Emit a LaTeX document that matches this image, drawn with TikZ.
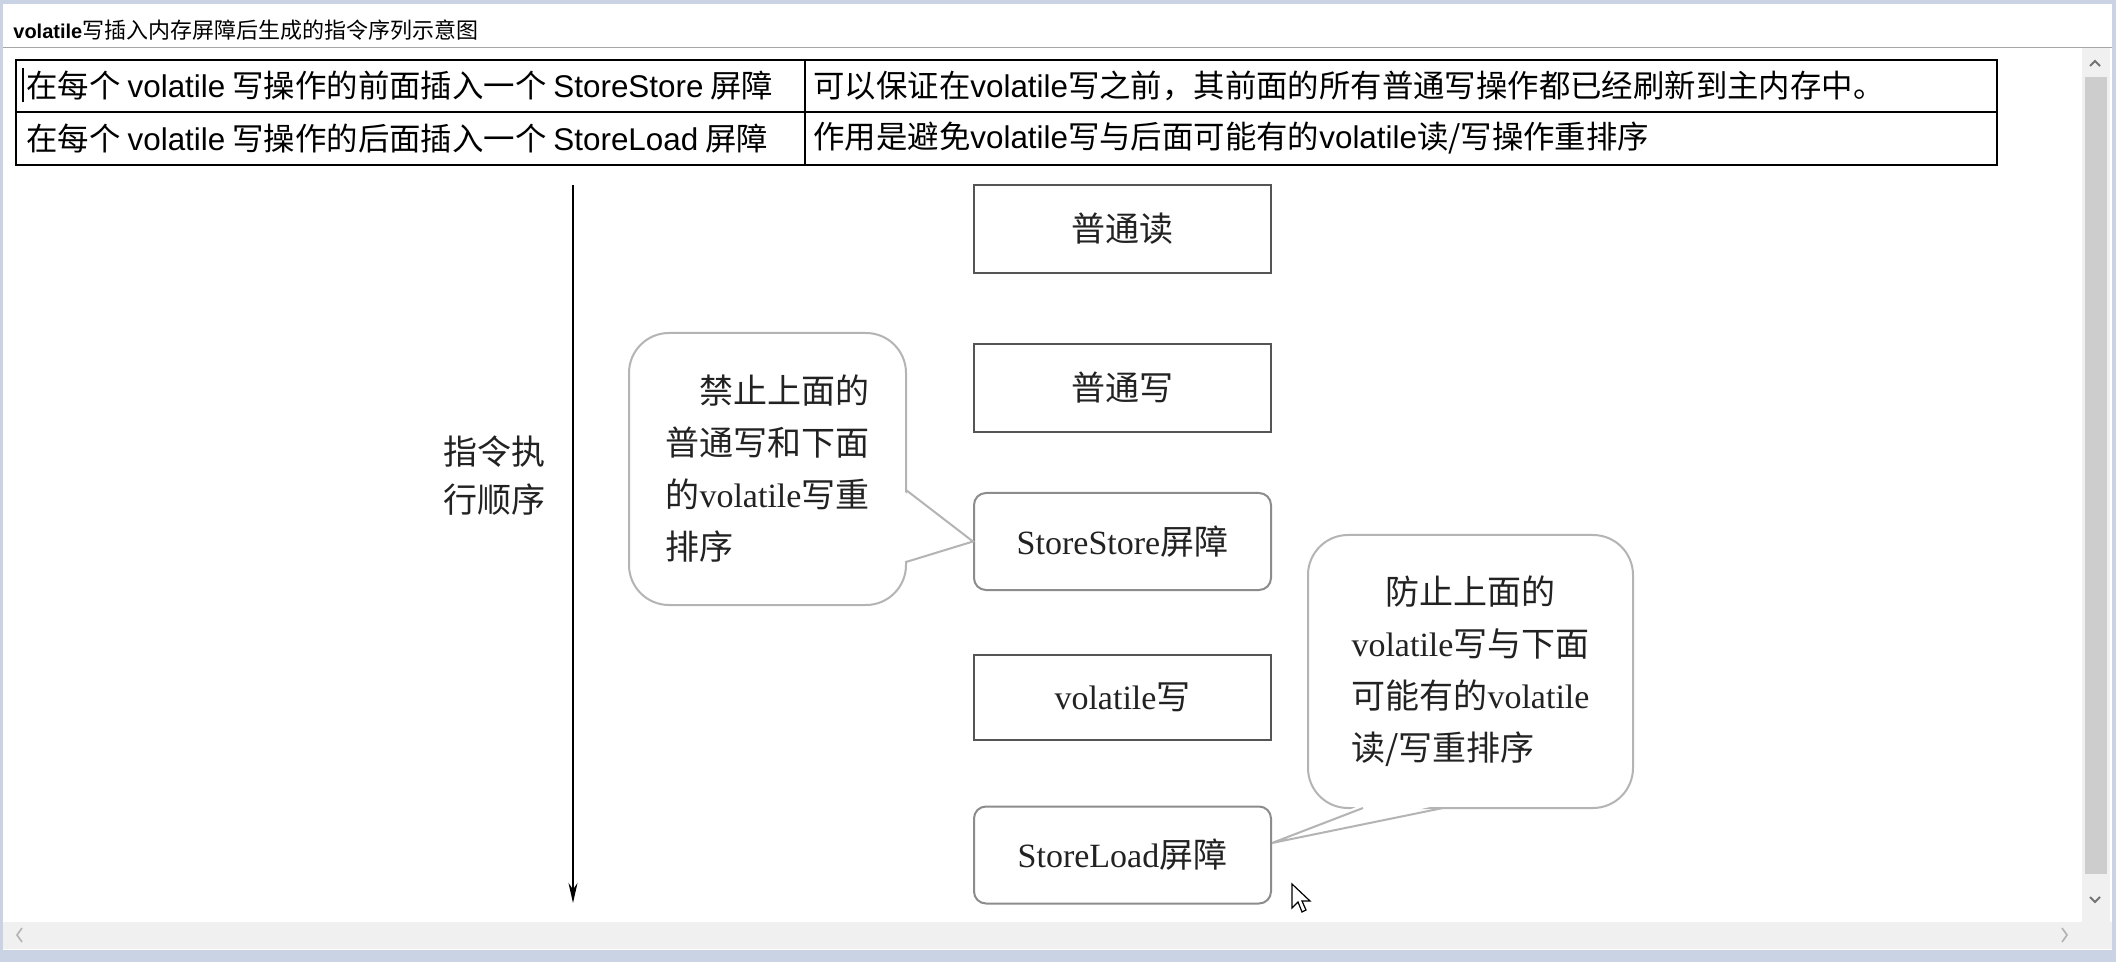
\documentclass[tikz,border=0pt]{standalone}
\usepackage{xcolor}
\usepackage{tikz}
\usepackage{fontspec}
\usetikzlibrary{arrows.meta}
\setmainfont{Noto Sans CJK SC}
\newfontfamily\latsans{Liberation Sans}
\newfontfamily\latserif{Liberation Serif}
\newcommand\lsa[1]{{\latsans #1}}
\newcommand\lse[1]{{\latserif #1}}
\definecolor{FR}{HTML}{C9D3E3}
\definecolor{SB}{HTML}{F0F0F0}
\definecolor{TH}{HTML}{CDCDCD}
\definecolor{BX}{HTML}{555555}
\definecolor{RB}{HTML}{8C8C8C}
\definecolor{BL}{HTML}{B4B4B4}
\definecolor{TX}{HTML}{222222}
\begin{document}
\begin{tikzpicture}[x=0.5pt, y=-0.5pt,
  celltext/.style={anchor=west, inner sep=0pt, font=\fontsize{15.7}{19}\selectfont},
  opbox/.style={draw=BX, line width=1pt, minimum width=148.5pt, minimum height=44pt, inner sep=0pt, text=TX, font=\fontsize{17}{26}\selectfont},
  barrier/.style={opbox, draw=RB, rounded corners=6pt, minimum height=48.5pt},
  bubble/.style={draw=BL, fill=white, line width=1pt, rounded corners=20pt, inner sep=0pt, align=left, text=TX, font=\fontsize{17}{26}\selectfont},
  tailline/.style={draw=BL, line width=1pt}]%
\useasboundingbox (0,0) rectangle (2116,962);%
% window frame, title, scroll bars
\fill[FR] (0,0) rectangle (2116,962);%
\fill[white] (3,4) rectangle (2112,950);%
\draw[gray!70] (3,47) -- (2112,47);%
\node[anchor=west, inner sep=0pt, font=\fontsize{11}{13}\selectfont] (ttl) at (13, 30) {{\fontsize{10}{13}\selectfont\latsans\bfseries volatile}写插入内存屏障后生成的指令序列示意图};%
\fill[SB] (2082,48) rectangle (2110,922);%
\fill[TH] (2085,77) rectangle (2107,874);%
\draw[gray!90!black, line width=1pt] (2090,66) -- (2095,61) -- (2100,66);%
\draw[gray!90!black, line width=1pt] (2090,897) -- (2095,902) -- (2100,897);%
\fill[SB] (3,922) rectangle (2112,949);%
\draw[gray!60, line width=0.8pt] (22,928) -- (17,935) -- (22,942);%
\draw[gray!60, line width=0.8pt] (2062,928) -- (2067,935) -- (2062,942);%
% table
\draw[line width=1pt] (16,60) rectangle (1997,165);%
\draw[line width=1pt] (16,112) -- (1997,112);%
\draw[line width=1pt] (805,60) -- (805,165);%
\draw[line width=0.6pt] (23,68) -- (23,102);%
\node[celltext] (r1a) at (26, 86) {在每个 \lsa{volatile} 写操作的前面插入一个 \lsa{StoreStore} 屏障};%
\node[celltext] (r2a) at (26, 138.5) {在每个 \lsa{volatile} 写操作的后面插入一个 \lsa{StoreLoad} 屏障};%
\node[celltext] (r1b) at (813, 86) {可以保证在\lsa{volatile}写之前，其前面的所有普通写操作都已经刷新到主内存中。};%
\node[celltext] (r2b) at (813, 138.5) {作用是避免\lsa{volatile}写与后面可能有的\lsa{volatile}读/写操作重排序};%
% instruction sequence
\coordinate (top) at (573, 185);%
\coordinate (bot) at (573, 903);%
\draw[line width=0.75pt, -{Stealth[length=10pt, width=4.5pt]}] (top) -- (bot);%
\node[align=center, inner sep=0pt, text=TX, font=\fontsize{17}{24}\selectfont] (lbl) at (494, 476) {指令执\\行顺序};%
\node[opbox] (rd) at (1122.5, 229.0) {普通读};%
\node[opbox] (wr) at (1122.5, 388.0) {普通写};%
\node[barrier] (ss) at (1122.5, 541.5) {\lse{StoreStore}屏障};%
\node[opbox, minimum height=42.5pt] (vw) at (1122.5, 697.5) {\lse{volatile}写};%
\node[barrier] (sl) at (1122.5, 855.0) {\lse{StoreLoad}屏障};%
% callouts
\node[bubble, minimum width=138.5pt, minimum height=136pt] (b1) at (767.5, 469.0) {\hspace*{1em}禁止上面的\\普通写和下面\\的\lse{volatile}写重\\排序};%
\coordinate (t1a) at (906, 490);%
\coordinate (t1b) at (906, 562);%
\fill[white] ([xshift=-2pt]t1a) -- (ss.west) -- ([xshift=-2pt]t1b) -- cycle;%
\draw[tailline] (t1a) -- (ss.west) -- (t1b);%
\node[bubble, minimum width=162.5pt, minimum height=136.5pt] (b2) at (1470.5, 671.5) {\hspace*{1em}防止上面的\\\lse{volatile}写与下面\\可能有的\lse{volatile}\\读/写重排序};%
\coordinate (t2a) at (1363, 808);%
\coordinate (t2b) at (1443, 808);%
\fill[white] ([yshift=2pt]t2a) -- ([yshift=6pt]sl.east) -- ([yshift=2pt]t2b) -- cycle;%
\draw[tailline] (t2a) -- ([yshift=6pt]sl.east) -- (t2b);%
% mouse pointer
\draw[fill=white, line width=0.6pt, shift={(1292, 884)}] (0,0) -- (0,24) -- (6,18) -- (10,28) -- (14,26) -- (10,17) -- (18,17) -- cycle;%
\end{tikzpicture}
\end{document}
